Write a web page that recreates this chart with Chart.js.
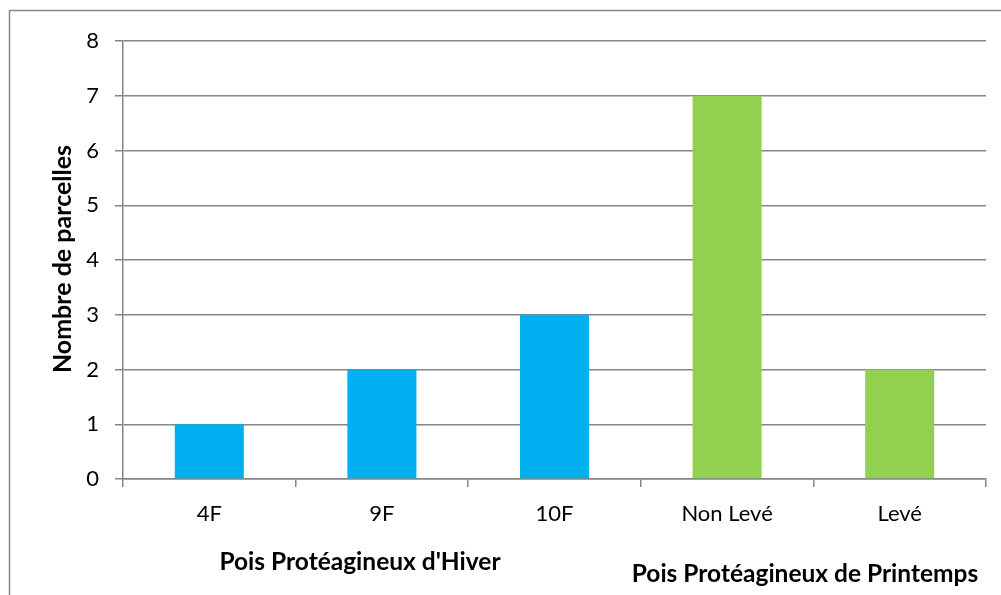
<!DOCTYPE html>
<html><head><meta charset="utf-8">
<script src="https://cdn.jsdelivr.net/npm/chart.js@4.4.1/dist/chart.umd.min.js"></script>
<style>html,body{margin:0;padding:0;background:#fff;}#wrap{width:1001px;height:595px;position:relative;}</style>
</head><body><div id="wrap"><canvas id="c" width="1001" height="595"></canvas></div>
<script>
const categories = ["4F", "9F", "10F", "Non Levé", "Levé"];
const values = [1, 2, 3, 7, 2];
const barColors = ["#00B0F0", "#00B0F0", "#00B0F0", "#92D050", "#92D050"];
const yTicks = [0, 1, 2, 3, 4, 5, 6, 7, 8];
const yTitle = "Nombre de parcelles";
const groupLabels = ["Pois Protéagineux d'Hiver", "Pois Protéagineux de Printemps"];

const FONT = "Lato, 'Liberation Sans', sans-serif";
const GRID = "#868686";

const extras = {
  id: "extras",
  afterDraw(chart) {
    const ctx = chart.ctx;
    ctx.save();
    ctx.strokeStyle = "#888888";
    ctx.lineWidth = 1.5;
    ctx.strokeRect(9.5, 10.5, 1100, 700);
    ctx.fillStyle = "#000";
    ctx.font = "bold 25px " + FONT;
    ctx.textAlign = "center";
    ctx.textBaseline = "middle";
    ctx.save();
    ctx.translate(63, 259);
    ctx.rotate(-Math.PI / 2);
    ctx.fillText(yTitle, 0, 0);
    ctx.restore();
    ctx.font = "bold 24.5px " + FONT;
    ctx.fillText(groupLabels[0], 360, 562);
    ctx.fillText(groupLabels[1], 805, 574);
    ctx.restore();
  }
};

new Chart(document.getElementById("c"), {
  type: "bar",
  data: {
    labels: categories,
    datasets: [{ data: values, backgroundColor: barColors, barPercentage: 0.4, categoryPercentage: 1.0 }]
  },
  options: {
    responsive: false,
    animation: false,
    layout: { padding: { left: 0, top: 41, right: 15, bottom: 0 } },
    plugins: { legend: { display: false }, tooltip: { enabled: false } },
    scales: {
      x: {
        afterFit(s) { s.height = 116; },
        grid: { drawOnChartArea: false, drawTicks: true, tickLength: 8, color: GRID, lineWidth: 1.5 },
        border: { color: GRID, width: 1.5 },
        ticks: { color: "#000", font: { family: FONT, size: 22 }, padding: 14 }
      },
      y: {
        min: 0, max: 8,
        afterFit(s) { s.width = 123; },
        afterBuildTicks(s) { s.ticks = yTicks.map(v => ({ value: v })); },
        grid: { color: GRID, lineWidth: 1.5, tickLength: 8 },
        border: { color: GRID, width: 1.5 },
        ticks: { color: "#000", font: { family: FONT, size: 22 }, padding: 16 }
      }
    }
  },
  plugins: [extras]
});
</script></body></html>
